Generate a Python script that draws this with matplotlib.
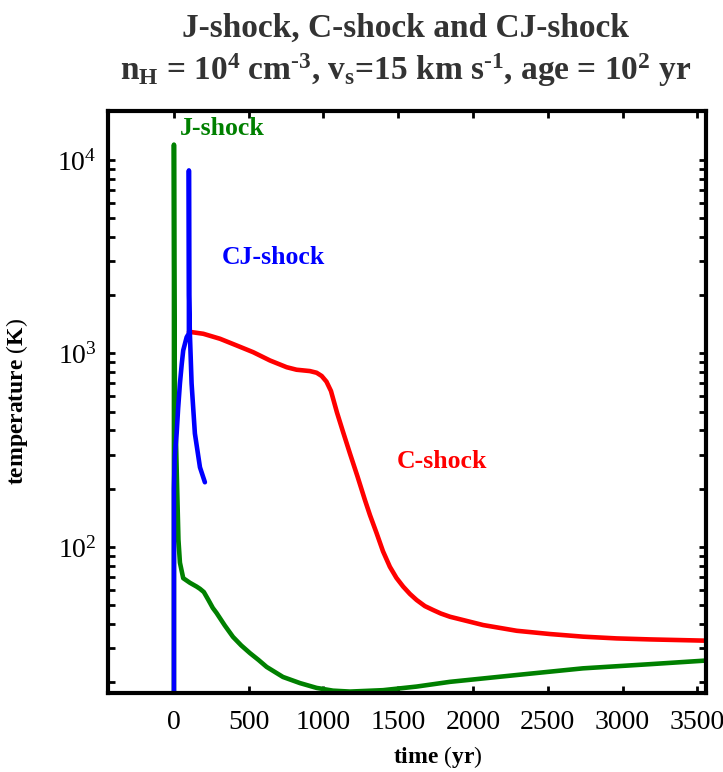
import matplotlib
matplotlib.use("Agg")
import matplotlib.pyplot as plt
from matplotlib.ticker import LogLocator, FixedLocator

plt.rcParams["font.family"] = "Liberation Serif"
plt.rcParams["mathtext.fontset"] = "custom"
plt.rcParams["mathtext.rm"] = "Liberation Serif"
plt.rcParams["mathtext.it"] = "Liberation Serif:italic"
plt.rcParams["mathtext.bf"] = "Liberation Serif:bold"

# ─── temperature profiles (time in yr, T in K) ──────────────────────────────
t_j = [0, 0, 2, 4, 7, 20, 30, 40, 62, 107, 152, 174, 200, 230, 260, 285, 340,
       395, 450, 508, 565, 620, 729, 843, 954, 1063, 1177, 1398, 1623, 1846,
       2292, 2735, 3183, 3560]
T_j = [10, 12000, 3000, 1200, 575, 222, 109, 83, 69, 65.3, 62.4, 60.8, 58.5,
       53.3, 48.4, 45.6, 39.3, 34.3, 31.0, 28.3, 26.1, 24.0, 21.3, 19.8, 18.7,
       18.1, 17.9, 18.2, 19.0, 20.1, 21.8, 23.6, 24.8, 25.9]

t_c = [100, 118, 196, 308, 419, 530, 642, 754, 820, 909, 954, 988, 1020,
       1050, 1090, 1130, 1177, 1227, 1277, 1311, 1355, 1398, 1444, 1488, 1533,
       1578, 1623, 1678, 1734, 1785, 1846, 2068, 2292, 2514, 2737, 2960, 3183,
       3560]
T_c = [1290, 1289, 1264, 1191, 1100, 1015, 920, 849, 824, 811, 795, 765, 715,
       640, 496, 395, 304, 232, 175, 146, 118, 95, 79, 69.2, 62.4, 57.2, 53.2,
       49.5, 47.2, 45.3, 43.6, 39.5, 36.9, 35.5, 34.4, 33.7, 33.3, 32.8]

t_cj = [0, 0, 5, 12, 18, 28, 40, 52, 62, 85, 100, 100, 102, 106, 118, 140,
        174, 207]
T_cj = [10, 200, 290, 340, 386, 520, 700, 880, 1037, 1214, 1270, 8830, 2000,
        1300, 700, 386, 258, 216]

x_ticks = [0, 500, 1000, 1500, 2000, 2500, 3000, 3500]

# label positions (yr, K)
lab_j = (40, 14600)
lab_cj = (321, 3130)
lab_c = (1491, 278)

fig = plt.figure(figsize=(7.23, 7.72), dpi=100)
ax = fig.add_axes([108 / 723, 1 - 693 / 772, 598 / 723, 582 / 772])

kw = dict(lw=3.3, solid_capstyle="round", solid_joinstyle="round")
ax.plot(t_j, T_j, color="#008000", **kw)
ax.plot(t_c, T_c, color="#ff0000", **kw)
ax.plot(t_cj, T_cj, color="#0000ff", **kw)

ax.set_yscale("log")
ax.set_xlim(-441, 3558)
ax.set_ylim(17.6, 17900)

ax.xaxis.set_major_locator(FixedLocator(x_ticks))
ax.yaxis.set_major_locator(LogLocator(base=10))
ax.yaxis.set_minor_locator(LogLocator(base=10, subs=range(2, 10)))
ax.yaxis.set_minor_formatter(plt.NullFormatter())

ax.tick_params(which="both", direction="in", top=True, right=True,
               width=2.0, colors="black")
ax.tick_params(which="major", length=5, labelsize=20)
ax.tick_params(which="minor", length=5)
ax.tick_params(axis="x", pad=12)
ax.tick_params(axis="y", pad=8)
for sp in ax.spines.values():
    sp.set_linewidth(3.0)

ax.text(*lab_j, "J-shock", color="#008000", fontsize=18.5, fontweight="bold",
        ha="left", va="center")
ax.text(*lab_cj, "CJ-shock", color="#0000ff", fontsize=18.5, fontweight="bold",
        ha="left", va="center")
ax.text(*lab_c, "C-shock", color="#ff0000", fontsize=18.5, fontweight="bold",
        ha="left", va="center")

# bold words, upright regular parentheses
ax.set_xlabel(r"time $($yr$)$", fontsize=17, fontweight="bold")
ax.xaxis.set_label_coords(0.552, -0.088)
ax.set_ylabel(r"temperature $($K$)$", fontsize=17, fontweight="bold")
ax.yaxis.set_label_coords(-0.130, 0.5)

fig.text(406 / 723, 1 - 28 / 772, "J-shock, C-shock and CJ-shock",
         fontsize=24, fontweight="bold", color="#333333", ha="center", va="center")
fig.text(406 / 723, 1 - 70 / 772,
         r"n$_{\mathbf{H}}$ = 10$^{\mathbf{4}}$ cm$^{\mathbf{\text{-}3}}$, "
         r"v$_{\mathbf{s}}$=15 km s$^{\mathbf{\text{-}1}}$, age = 10$^{\mathbf{2}}$ yr",
         fontsize=24, fontweight="bold", color="#333333", ha="center", va="center")

fig.savefig("out.png", dpi=100)
